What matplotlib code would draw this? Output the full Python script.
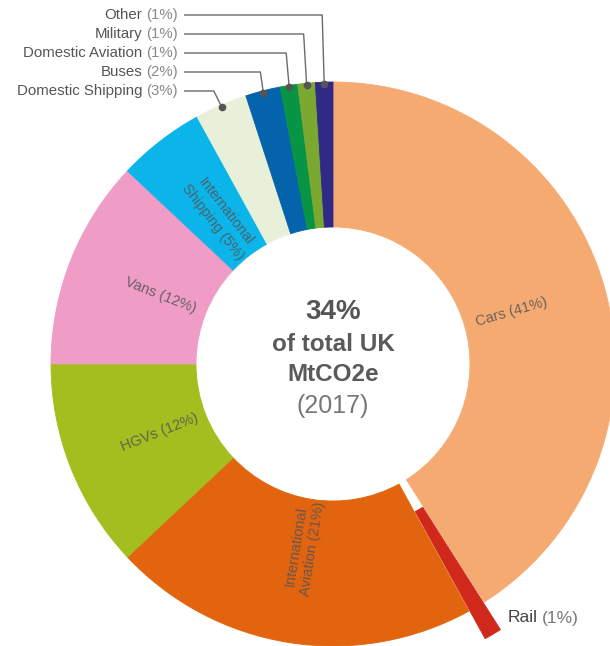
import numpy as np
import matplotlib.pyplot as plt

# data
categories = ["Cars", "Rail", "International\nAviation", "HGVs", "Vans",
              "International\nShipping", "Domestic Shipping", "Buses",
              "Domestic Aviation", "Military", "Other"]
shares = [41, 1, 21, 12, 12, 5, 3, 2, 1, 1, 1]
colors = ["#F5AA72", "#D0281A", "#E2640F", "#A3BE1E", "#EF9CC6", "#0BB5EA",
          "#E9F0D9", "#0563AC", "#079444", "#7AA831", "#2F2A85"]
inside = ["Cars", "International\nAviation", "HGVs", "Vans", "International\nShipping"]
outside = ["Other", "Military", "Domestic Aviation", "Buses", "Domestic Shipping"]

W, H = 610, 646
CX, CY = 333, 364          # centre of the donut, in pixels from top-left
R, R_IN = 282, 137

plt.rcParams['font.family'] = ['Liberation Sans', 'DejaVu Sans']

fig = plt.figure(figsize=(W / 100, H / 100), dpi=100)
ax = fig.add_axes([0, 0, 1, 1])

explode = [32 if c == "Rail" else 0 for c in categories]
wedges, _ = ax.pie(shares, colors=colors, radius=R, startangle=90,
                   counterclock=False, explode=explode,
                   wedgeprops=dict(width=R - R_IN, linewidth=0.6))
for w in wedges:
    w.set_edgecolor(w.get_facecolor())


def angle_of(i):
    # clockwise angle from 12 o'clock to the middle of slice i (degrees)
    return 360 * (sum(shares[:i]) + shares[i] / 2) / sum(shares)


def pos(theta, r):
    t = np.radians(theta)
    return r * np.sin(t), r * np.cos(t)


# labels inside the ring, running along the radius
for name in inside:
    i = categories.index(name)
    th = angle_of(i)
    x, y = pos(th, 186)
    rot = 90 - th if th < 180 else 270 - th
    ax.text(x, y, f"{name} ({shares[i]}%)", rotation=rot, rotation_mode='anchor',
            ha='center', va='center', fontsize=10.5, color='#555555', alpha=0.85,
            linespacing=1.25)

# small slices, labelled top-left with leader lines
label_x = 178 - CX
elbow_dx = [-2, -3, -3, -3, -8]
for k, name in enumerate(outside):
    i = categories.index(name)
    ly = CY - (15 + 19 * k)
    dx, dy = pos(angle_of(i), R - 2)
    ax.plot([label_x + 6, dx + elbow_dx[k], dx], [ly, ly, dy],
            color='#6b6b6b', lw=1, solid_capstyle='butt')
    ax.plot(dx, dy, 'o', color='#555555', ms=4.5)
    pct = ax.text(label_x, ly, f"({shares[i]}%)", ha='right', va='center',
                  fontsize=10.8, color='#8a8a8a')
    ax.annotate(name, xy=(0, 0.5), xycoords=pct, xytext=(-3, 0),
                textcoords='offset points', ha='right', va='center',
                fontsize=10.8, color='#555555')

# rail label
i = categories.index("Rail")
rail = ax.text(508 - CX, CY - 618, "Rail", ha='left', va='center',
               fontsize=12.5, color='#444444', fontweight='medium')
ax.annotate(f"({shares[i]}%)", xy=(1, 0.5), xycoords=rail, xytext=(3, 0),
            textcoords='offset points', ha='left', va='center',
            fontsize=12.5, color='#777777')

# centre text
ax.text(0, CY - 312, "34%", ha='center', va='center', fontsize=20,
        fontweight='bold', color='#555555')
ax.text(0, CY - 345, "of total UK", ha='center', va='center', fontsize=17.5,
        fontweight='bold', color='#5a5a5a')
ax.text(0, CY - 375, "MtCO2e", ha='center', va='center', fontsize=17.5,
        fontweight='bold', color='#5a5a5a')
ax.text(0, CY - 406, "(2017)", ha='center', va='center', fontsize=18,
        color='#777777')

ax.set_xlim(-CX, W - CX)
ax.set_ylim(CY - H, CY)
ax.set_aspect('equal')
ax.axis('off')

fig.savefig("out.png", dpi=100, facecolor='white')
